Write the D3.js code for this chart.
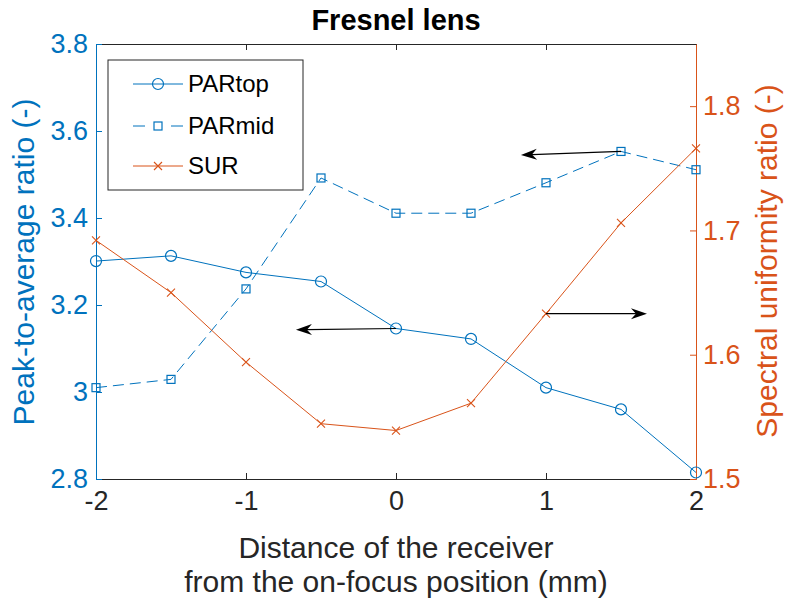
<!DOCTYPE html>
<html>
<head>
<meta charset="utf-8">
<script src="https://cdn.jsdelivr.net/npm/d3@7"></script>
<style>
  body { margin: 0; background: #fff; }
  text { font-family: "Liberation Sans", Arial, sans-serif; }
</style>
</head>
<body>
<svg id="chart" width="786" height="604"></svg>
<script>
// data
var distance = [-2, -1.5, -1, -0.5, 0, 0.5, 1, 1.5, 2];
var parTop = [3.301, 3.313, 3.275, 3.254, 3.146, 3.122, 3.010, 2.960, 2.815];
var parMid = [3.010, 3.029, 3.237, 3.492, 3.411, 3.411, 3.481, 3.553, 3.511];
var sur = [1.692, 1.650, 1.594, 1.5445, 1.539, 1.561, 1.633, 1.706, 1.766];

var xTicks = [-2, -1, 0, 1, 2];
var leftTicks = [2.8, 3, 3.2, 3.4, 3.6, 3.8];
var rightTicks = [1.5, 1.6, 1.7, 1.8];

// arrows pointing at the axis each curve belongs to
var arrows = [
    {x0: 1.5, y0: 3.553, x1: 0.833, y1: 3.545, side: "left"},
    {x0: 0, y0: 3.146, x1: -0.667, y1: 3.143, side: "left"},
    {x0: 1, y0: 1.633, x1: 1.673, y1: 1.633, side: "right"}
];

function draw() {
    var blue = "#0072BD", orange = "#D95319", dark = "#262626";

    var svg = d3.select("#chart");
    var pLeft = 96, pRight = 696, pTop = 44, pBottom = 479;

    var x = d3.scaleLinear().domain([-2, 2]).range([pLeft, pRight]);
    var yL = d3.scaleLinear().domain([2.8, 3.8]).range([pBottom, pTop]);
    var yR = d3.scaleLinear().domain([1.5, 1.85]).range([pBottom, pTop]);

    // plain hyphen minus like the original
    var fmt = function(d) { return String(d); };
    var tickLen = 6;

    svg.append("g")
        .attr("transform", "translate(0," + pBottom + ")")
        .call(d3.axisBottom(x).tickValues(xTicks).tickSizeInner(-tickLen).tickSizeOuter(0).tickPadding(12).tickFormat(fmt))
        .call(function(g) {
            g.select(".domain").attr("stroke", dark);
            g.selectAll(".tick line").attr("stroke", dark);
            g.selectAll("text").attr("fill", dark).attr("font-size", 27).attr("font-family", "Liberation Sans, Arial");
        });

    svg.append("g")
        .attr("transform", "translate(0," + pTop + ")")
        .call(d3.axisTop(x).tickValues(xTicks).tickSizeInner(-tickLen).tickSizeOuter(0).tickFormat(""))
        .call(function(g) {
            g.select(".domain").attr("stroke", dark);
            g.selectAll(".tick line").attr("stroke", dark);
        });

    svg.append("g")
        .attr("transform", "translate(" + pLeft + ",0)")
        .call(d3.axisLeft(yL).tickValues(leftTicks).tickSizeInner(-tickLen).tickSizeOuter(0).tickPadding(8).tickFormat(fmt))
        .call(function(g) {
            g.select(".domain").attr("stroke", blue);
            g.selectAll(".tick line").attr("stroke", blue);
            g.selectAll("text").attr("fill", blue).attr("font-size", 27).attr("font-family", "Liberation Sans, Arial");
        });

    svg.append("g")
        .attr("transform", "translate(" + pRight + ",0)")
        .call(d3.axisRight(yR).tickValues(rightTicks).tickSizeInner(-tickLen).tickSizeOuter(0).tickPadding(7).tickFormat(fmt))
        .call(function(g) {
            g.select(".domain").attr("stroke", orange);
            g.selectAll(".tick line").attr("stroke", orange);
            g.selectAll("text").attr("fill", orange).attr("font-size", 27).attr("font-family", "Liberation Sans, Arial");
        });

    // labels
    svg.append("text").attr("x", 396).attr("y", 30).attr("text-anchor", "middle")
        .attr("font-size", 29).attr("font-weight", "bold").attr("fill", "#000").text("Fresnel lens");

    svg.append("text").attr("x", 396).attr("y", 558).attr("text-anchor", "middle")
        .attr("font-size", 30).attr("fill", dark).text("Distance of the receiver");
    svg.append("text").attr("x", 396).attr("y", 592).attr("text-anchor", "middle")
        .attr("font-size", 30).attr("fill", dark).text("from the on-focus position (mm)");

    svg.append("text").attr("transform", "translate(34,262) rotate(-90)")
        .attr("text-anchor", "middle").attr("font-size", 30).attr("fill", blue).text("Peak-to-average ratio (-)");
    svg.append("text").attr("transform", "translate(777,261) rotate(-90)")
        .attr("text-anchor", "middle").attr("font-size", 30).attr("fill", orange).text("Spectral uniformity ratio (-)");

    // series
    var plot = svg.append("g");

    function drawLine(vals, yScale, color, dash) {
        var line = d3.line()
            .x(function(d, i) { return x(distance[i]); })
            .y(function(d) { return yScale(d); });
        plot.append("path").datum(vals)
            .attr("d", line)
            .attr("fill", "none")
            .attr("stroke", color)
            .attr("stroke-width", 1)
            .attr("stroke-dasharray", dash || null);
    }

    function circleMark(g, cx, cy, color) {
        g.append("circle").attr("cx", cx).attr("cy", cy).attr("r", 5.5)
            .attr("fill", "none").attr("stroke", color).attr("stroke-width", 1.2);
    }
    function squareMark(g, cx, cy, color) {
        g.append("rect").attr("x", cx - 4).attr("y", cy - 4).attr("width", 8).attr("height", 8)
            .attr("fill", "none").attr("stroke", color).attr("stroke-width", 1.2);
    }
    function crossMark(g, cx, cy, color) {
        g.append("path").attr("d", "M" + (cx - 4) + "," + (cy - 4) + "L" + (cx + 4) + "," + (cy + 4) +
            "M" + (cx - 4) + "," + (cy + 4) + "L" + (cx + 4) + "," + (cy - 4))
            .attr("stroke", color).attr("stroke-width", 1.1).attr("fill", "none");
    }

    drawLine(parTop, yL, blue);
    drawLine(parMid, yL, blue, "11,6");
    drawLine(sur, yR, orange);

    parTop.forEach(function(v, i) { circleMark(plot, x(distance[i]), yL(v), blue); });
    parMid.forEach(function(v, i) { squareMark(plot, x(distance[i]), yL(v), blue); });
    sur.forEach(function(v, i) { crossMark(plot, x(distance[i]), yR(v), orange); });

    // arrows
    arrows.forEach(function(a) {
        var ys = a.side == "left" ? yL : yR;
        var sx = x(a.x0), sy = ys(a.y0), ex = x(a.x1), ey = ys(a.y1);
        var ang = Math.atan2(ey - sy, ex - sx);
        var L = 16, W = 5.5, notch = 11;
        plot.append("line").attr("x1", sx).attr("y1", sy)
            .attr("x2", ex - Math.cos(ang) * notch).attr("y2", ey - Math.sin(ang) * notch)
            .attr("stroke", "#000").attr("stroke-width", 1.2);
        var pts = [[0, 0], [-L, -W], [-notch, 0], [-L, W]].map(function(p) {
            return [ex + p[0] * Math.cos(ang) - p[1] * Math.sin(ang),
                    ey + p[0] * Math.sin(ang) + p[1] * Math.cos(ang)];
        });
        plot.append("path").attr("d", "M" + pts.join("L") + "Z").attr("fill", "#000");
    });

    // legend
    var lg = svg.append("g").attr("transform", "translate(108,60)");
    lg.append("rect").attr("width", 195).attr("height", 130)
        .attr("fill", "#fff").attr("stroke", dark).attr("stroke-width", 1);

    var legendItems = [
        {name: "PARtop", color: blue, dash: false, mark: circleMark, y: 24},
        {name: "PARmid", color: blue, dash: true, mark: squareMark, y: 66},
        {name: "SUR", color: orange, dash: false, mark: crossMark, y: 106}
    ];
    legendItems.forEach(function(it) {
        if (it.dash) {
            lg.append("line").attr("x1", 25).attr("x2", 37).attr("y1", it.y).attr("y2", it.y)
                .attr("stroke", it.color).attr("stroke-width", 1);
            lg.append("line").attr("x1", 63).attr("x2", 75).attr("y1", it.y).attr("y2", it.y)
                .attr("stroke", it.color).attr("stroke-width", 1);
        } else {
            lg.append("line").attr("x1", 25).attr("x2", 75).attr("y1", it.y).attr("y2", it.y)
                .attr("stroke", it.color).attr("stroke-width", 1);
        }
        it.mark(lg, 50, it.y, it.color);
        lg.append("text").attr("x", 80).attr("y", it.y + 8).attr("font-size", 24)
            .attr("fill", "#000").text(it.name);
    });
}

draw();
</script>
</body>
</html>
